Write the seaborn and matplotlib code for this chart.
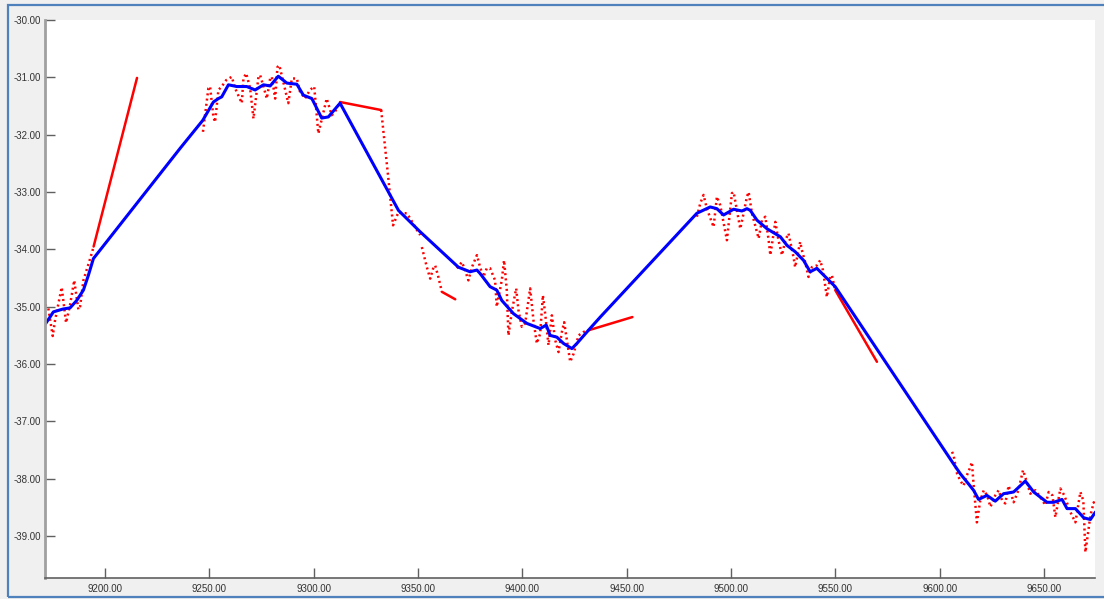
import numpy as np
import pandas as pd
import seaborn as sns
import matplotlib
matplotlib.use("Agg")
import matplotlib.pyplot as plt
from matplotlib.patches import Rectangle
from matplotlib.ticker import FormatStrFormatter

# Smoothed track (blue)
blue_x = [9171.2, 9173.6, 9175.2, 9179.8, 9183.2, 9186.4, 9189.6, 9192.0, 9194.4,
          9235.9, 9246.8, 9251.9, 9254.3, 9255.9, 9259.1, 9263.1, 9267.9, 9271.9,
          9275.9, 9279.1, 9283.0, 9287.1, 9291.9, 9295.0, 9299.1, 9303.8, 9307.0,
          9312.6, 9340.6, 9350.9, 9369.3, 9374.9, 9378.2, 9379.7, 9384.5, 9387.7,
          9390.1, 9395.7, 9402.1, 9408.5, 9411.4, 9413.3, 9416.5, 9419.7, 9423.7,
          9426.1, 9430.9, 9437.3, 9483.6, 9490.0, 9493.2, 9496.4, 9501.2, 9505.2,
          9507.6, 9509.2, 9512.4, 9517.2, 9523.6, 9526.8, 9530.7, 9534.7, 9537.9,
          9541.1, 9549.9, 9606.6, 9609.8, 9613.8, 9616.2, 9618.6, 9622.6, 9626.6,
          9630.6, 9635.4, 9641.0, 9645.0, 9651.4, 9654.6, 9658.6, 9661.0, 9665.0,
          9669.0, 9672.2, 9674.6]
blue_y = [-35.31, -35.18, -35.09, -35.04, -35.02, -34.89, -34.71, -34.45, -34.16,
          -32.24, -31.75, -31.43, -31.37, -31.34, -31.13, -31.16, -31.16, -31.22,
          -31.13, -31.15, -30.98, -31.10, -31.12, -31.31, -31.37, -31.71, -31.69,
          -31.45, -33.32, -33.69, -34.31, -34.39, -34.36, -34.42, -34.65, -34.71,
          -34.89, -35.12, -35.29, -35.38, -35.32, -35.50, -35.53, -35.64, -35.73,
          -35.64, -35.44, -35.18, -33.37, -33.26, -33.29, -33.40, -33.30, -33.33,
          -33.29, -33.32, -33.49, -33.64, -33.78, -33.93, -34.04, -34.19, -34.39,
          -34.33, -34.65, -37.74, -37.91, -38.09, -38.20, -38.36, -38.29, -38.39,
          -38.26, -38.23, -38.04, -38.23, -38.41, -38.41, -38.36, -38.52, -38.52,
          -38.68, -38.71, -38.58]

# Raw samples (red, dotted); NaN marks a gap in the record
red_x = [9171.2, 9172.8, 9174.9, 9176.0, 9179.2, 9181.3, 9183.2, 9185.2, 9187.2,
         9188.0, 9189.6, 9193.6, 9194.5, np.nan,
         9246.9, 9249.5, 9250.3, 9251.9, 9252.7, 9254.3, 9255.9, 9258.0, 9260.7,
         9262.3, 9265.5, 9266.3, 9267.6, 9269.5, 9271.1, 9273.5, 9274.3, 9275.9,
         9277.5, 9279.1, 9279.9, 9281.5, 9282.6, 9283.5, 9285.4, 9287.8, 9289.5,
         9291.9, 9293.4, 9295.8, 9298.2, 9300.2, 9302.2, 9306.2, 9308.6, 9310.2,
         9312.6, np.nan,
         9332.3, 9335.6, 9338.0, 9340.6, 9342.2, 9344.6, 9346.2, 9349.4, 9351.0,
         np.nan,
         9351.8, 9354.2, 9355.8, 9357.4, 9358.2, 9359.7, 9361.4, np.nan,
         9368.6, 9371.0, 9372.5, 9374.1, 9375.8, 9378.2, 9379.7, 9381.3, 9382.9,
         9384.5, 9386.9, 9387.7, 9390.1, 9391.2, 9392.5, 9393.3, 9394.9, 9397.0,
         9398.1, 9399.7, 9401.3, 9403.7, 9405.3, 9406.9, 9408.5, 9409.8, 9410.9,
         9412.5, 9414.1, 9415.7, 9417.3, 9418.9, 9420.0, 9421.3, 9422.9, 9424.5,
         9426.9, 9429.3, 9431.7, np.nan,
         9483.6, 9485.2, 9486.8, 9488.4, 9491.6, 9493.2, 9494.8, 9498.0, 9500.4,
         9501.2, 9502.8, 9504.4, 9506.0, 9507.6, 9508.4, 9510.0, 9513.2, 9514.8,
         9516.4, 9518.0, 9518.8, 9521.2, 9522.7, 9524.4, 9526.0, 9527.5, 9529.9,
         9530.7, 9533.1, 9533.9, 9535.5, 9537.1, 9538.7, 9541.1, 9542.7, 9544.0,
         9545.9, 9547.5, 9548.3, 9549.9, np.nan,
         9605.9, 9606.6, 9608.3, 9609.8, 9611.4, 9613.0, 9614.6, 9615.4, 9616.2,
         9617.8, 9619.4, 9621.1, 9622.7, 9624.3, 9626.6, 9628.2, 9629.9, 9631.4,
         9633.0, 9635.4, 9637.7, 9639.9, 9641.5, 9643.4, 9645.8, 9648.2, 9650.6,
         9652.2, 9654.0, 9655.4, 9657.8, 9659.7, 9662.6, 9665.0, 9667.4, 9668.8,
         9669.8, 9672.2, 9673.8, 9674.6]
red_y = [-34.96, -35.03, -35.51, -35.24, -34.66, -35.28, -34.97, -34.54, -35.05,
         -35.00, -34.54, -34.07, -33.95, np.nan,
         -31.95, -31.19, -31.16, -31.69, -31.78, -31.22, -31.16, -31.05, -30.99,
         -31.19, -31.45, -31.02, -30.93, -31.19, -31.72, -30.99, -30.96, -31.16,
         -31.37, -31.02, -30.99, -31.37, -30.82, -30.79, -31.08, -31.45, -31.02,
         -31.02, -31.25, -31.37, -31.22, -31.16, -31.98, -31.37, -31.66, -31.60,
         -31.43, np.nan,
         -31.57, -32.71, -33.58, -33.35, -33.37, -33.37, -33.46, -33.66, -33.75,
         np.nan,
         -33.96, -34.31, -34.51, -34.31, -34.28, -34.48, -34.74, np.nan,
         -34.33, -34.22, -34.36, -34.54, -34.31, -34.10, -34.31, -34.48, -34.33,
         -34.33, -34.54, -35.00, -34.54, -34.19, -34.71, -35.50, -35.09, -34.68,
         -35.06, -35.35, -35.29, -34.68, -35.24, -35.64, -35.47, -34.80, -35.12,
         -35.67, -35.15, -35.58, -35.79, -35.44, -35.27, -35.58, -35.96, -35.82,
         -35.50, -35.44, -35.41, np.nan,
         -33.43, -33.20, -33.05, -33.29, -33.61, -33.08, -33.23, -33.84, -33.02,
         -33.00, -33.32, -33.64, -33.37, -33.08, -33.00, -33.37, -33.81, -33.49,
         -33.43, -33.84, -34.10, -33.52, -33.84, -34.10, -33.84, -33.72, -34.13,
         -34.31, -33.87, -34.01, -34.22, -34.48, -34.31, -34.28, -34.19, -34.36,
         -34.83, -34.48, -34.45, -34.71, np.nan,
         -37.53, -37.59, -37.91, -38.03, -38.12, -37.94, -37.80, -37.71, -38.09,
         -38.76, -38.38, -38.20, -38.29, -38.49, -38.29, -38.20, -38.38, -38.43,
         -38.12, -38.41, -38.20, -37.85, -38.03, -38.26, -38.20, -38.32, -38.46,
         -38.23, -38.29, -38.67, -38.17, -38.29, -38.58, -38.76, -38.23, -38.38,
         -39.28, -38.64, -38.41, -38.46]

# Dense straight runs of the raw samples (drawn solid)
run_x = [9194.5, 9215.3, np.nan, 9312.6, 9332.3, np.nan, 9361.4, 9367.8, np.nan,
         9431.7, 9452.7, np.nan, 9549.9, 9569.9]
run_y = [-33.95, -31.01, np.nan, -31.43, -31.57, np.nan, -34.74, -34.87, np.nan,
         -35.41, -35.18, np.nan, -34.71, -35.96]

x_ticks = [9200, 9250, 9300, 9350, 9400, 9450, 9500, 9550, 9600, 9650]
y_ticks = [-39, -38, -37, -36, -35, -34, -33, -32, -31, -30]


def to_frame(xs, ys):
    xs = np.asarray(xs, float)
    ys = np.asarray(ys, float)
    seg = np.cumsum(np.isnan(xs))
    df = pd.DataFrame({"x": xs, "y": ys, "seg": seg})
    return df.dropna()


sns.set_theme(style="white")
plt.rcParams["font.family"] = ["Liberation Sans", "DejaVu Sans"]

W, H = 1104, 599
fig = plt.figure(figsize=(W / 100, H / 100), dpi=100, facecolor="#f0f0f0")
ax = fig.add_axes([45 / W, 1 - 578 / H, (1095 - 45) / W, (578 - 20) / H])
ax.set_facecolor("white")

red_df = to_frame(red_x, red_y)
run_df = to_frame(run_x, run_y)

sns.lineplot(data=red_df, x="x", y="y", units="seg", estimator=None, sort=False,
             color="#ff0000", lw=1.8, ax=ax)
for ln in ax.get_lines():
    ln.set_dashes((0.8, 1.3))
    ln.set_dash_capstyle("butt")
sns.lineplot(data=run_df, x="x", y="y", units="seg", estimator=None, sort=False,
             color="#ff0000", lw=1.8, ax=ax)
sns.lineplot(x=blue_x, y=blue_y, sort=False, estimator=None,
             color="#0000ff", lw=2.2, ax=ax, solid_joinstyle="round",
             solid_capstyle="round")

ax.set_xlim(9171.2, 9674.4)
ax.set_ylim(-39.73, -30.0)
ax.set_xticks(x_ticks)
ax.set_yticks(y_ticks)
ax.xaxis.set_major_formatter(FormatStrFormatter("%.2f"))
ax.yaxis.set_major_formatter(FormatStrFormatter("%.2f"))
ax.set_xlabel("")
ax.set_ylabel("")

for side in ("top", "right"):
    ax.spines[side].set_visible(False)
ax.spines["left"].set_color("#a0a0a0")
ax.spines["left"].set_linewidth(2.0)
ax.spines["bottom"].set_color("#606060")
ax.spines["bottom"].set_linewidth(1.2)

ax.tick_params(axis="y", direction="in", length=7.5, width=1.0, color="#606060",
               labelsize=7, labelcolor="#333333", pad=3, left=True)
ax.tick_params(axis="x", direction="in", length=7, width=1.0, color="#606060",
               labelsize=7, labelcolor="#333333", pad=4, bottom=True)

# Window frame
fig.patches.append(Rectangle((8 / W, 1 - 597 / H), (1110 - 8) / W, (597 - 5) / H,
                             transform=fig.transFigure, fill=False,
                             edgecolor="#4f81bd", lw=1.6, zorder=10))

fig.savefig("out.png", dpi=100, facecolor=fig.get_facecolor())
